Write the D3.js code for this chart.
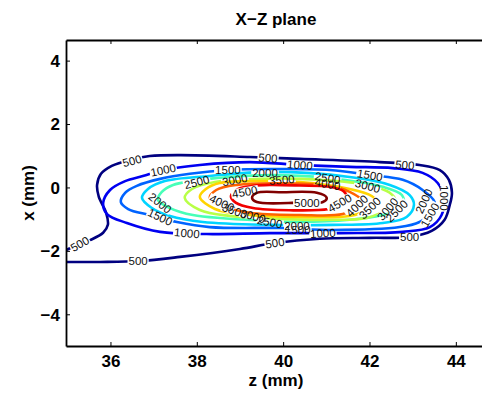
<!DOCTYPE html>
<html>
<head>
<meta charset="utf-8">
<script src="https://cdn.jsdelivr.net/npm/d3@7"></script>
<style>
  body { margin: 0; background: #fff; }
  svg { display: block; font-family: "Liberation Sans", Arial, sans-serif; }
</style>
</head>
<body>
<svg id="chart"></svg>
<script>
// contour levels and the jet colours MATLAB gave them
const levels = [500, 1000, 1500, 2000, 2500, 3000, 3500, 4000, 4500, 5000];
const levelColors = ["#000080", "#0000f1", "#0063ff", "#00d4ff", "#47ffb8",
                     "#b8ff47", "#ffd400", "#ff6300", "#f10000", "#800000"];

const zTicks = [36, 38, 40, 42, 44];
const xTicks = [-4, -2, 0, 2, 4];

// contour lines, [z (mm), x (mm)]
const line500 = [[34.85, -1.99], [34.97, -1.97], [35.18, -1.84], [35.53, -1.66], [35.83, -1.43], [35.94, -1.18],
  [35.90, -0.80], [35.73, -0.30], [35.69, 0.08], [35.78, 0.43], [36.03, 0.68], [36.45, 0.87],
  [36.91, 0.99], [37.61, 1.02], [39.23, 0.96], [40.39, 0.90], [42.24, 0.80], [43.16, 0.71],
  [43.63, 0.55], [43.84, 0.24], [43.91, -0.17], [43.86, -0.55], [43.74, -1.02], [43.44, -1.37],
  [42.93, -1.56], [42.01, -1.59], [40.85, -1.62], [39.81, -1.75], [39.00, -1.94], [37.61, -2.19],
  [36.68, -2.32], [35.76, -2.35], [34.97, -2.35], [34.85, -2.35]];
const line1000 = [[35.83, -0.49], [35.99, -0.08], [36.34, 0.20], [36.75, 0.36], [37.22, 0.55], [38.07, 0.71],
  [39.23, 0.80], [40.39, 0.71], [41.54, 0.65], [42.54, 0.61], [43.23, 0.46], [43.58, 0.14],
  [43.72, -0.33], [43.67, -0.87], [43.40, -1.25], [42.77, -1.40], [41.31, -1.44], [39.69, -1.44],
  [38.23, -1.47], [37.15, -1.40], [36.38, -1.12], [35.92, -0.84]];
const line1500 = [[36.24, -0.46], [36.34, -0.17], [36.61, 0.05], [37.15, 0.27], [37.84, 0.43], [38.77, 0.55],
  [39.69, 0.58], [41.08, 0.55], [42.01, 0.39], [42.77, 0.24], [43.23, -0.08], [43.51, -0.46],
  [43.44, -0.80], [43.16, -1.09], [42.70, -1.25], [41.15, -1.34], [39.99, -1.28], [38.30, -1.25],
  [37.54, -1.09], [36.91, -0.87], [36.41, -0.68]];
const line2000 = [[36.73, -0.33], [36.87, -0.05], [37.26, 0.20], [38.30, 0.36], [39.69, 0.49], [41.54, 0.33],
  [42.47, 0.08], [42.93, -0.24], [43.03, -0.55], [42.86, -0.93], [42.31, -1.12], [41.15, -1.18],
  [39.69, -1.18], [38.14, -1.09], [37.38, -0.90], [36.95, -0.64]];
const line2500 = [[37.10, -0.39], [37.19, -0.14], [37.45, 0.08], [38.47, 0.30], [39.69, 0.39], [41.03, 0.30],
  [42.31, 0.02], [42.75, -0.24], [42.79, -0.55], [42.63, -0.74], [42.31, -0.87], [41.54, -1.02],
  [40.39, -1.09], [39.69, -1.06], [37.91, -0.87], [37.38, -0.65]];
const line3000 = [[37.72, -0.33], [37.89, -0.05], [38.42, 0.17], [39.46, 0.27], [40.39, 0.27], [41.96, 0.08],
  [42.47, -0.17], [42.61, -0.46], [42.42, -0.68], [41.94, -0.96], [41.08, -1.02], [39.92, -0.99],
  [38.77, -0.90], [38.07, -0.71]];
const line3500 = [[38.07, -0.30], [38.21, -0.05], [38.53, 0.14], [39.46, 0.20], [40.39, 0.17], [41.54, -0.05],
  [42.05, -0.27], [42.19, -0.49], [42.01, -0.68], [41.54, -0.90], [40.39, -0.93], [39.23, -0.87],
  [38.42, -0.68]];
const line4000 = [[38.30, -0.33], [38.45, -0.08], [38.93, 0.08], [39.92, 0.13], [41.08, 0.05], [41.54, -0.14],
  [41.80, -0.39], [41.71, -0.61], [41.38, -0.84], [40.39, -0.87], [39.23, -0.80], [38.60, -0.58]];
const line4500 = [[38.79, -0.27], [38.95, -0.05], [39.30, 0.05], [39.69, 0.08], [40.39, 0.06], [41.08, 0.02],
  [41.40, -0.12], [41.47, -0.30], [41.35, -0.52], [41.05, -0.68], [40.15, -0.72], [39.30, -0.65], [38.90, -0.48]];
const line5000 = [[39.28, -0.33], [39.39, -0.17], [39.99, -0.15], [40.78, -0.17], [41.01, -0.33], [40.92, -0.46],
  [40.39, -0.48], [39.39, -0.46]];

// inline labels: [level, z, x, angle]
const contourLabels = [
  [500, 35.29, -1.78, -30], [500, 36.50, 0.84, -15], [500, 36.64, -2.32, 0], [500, 39.65, 0.93, 5],
  [500, 39.81, -1.75, -8], [500, 42.82, 0.71, 5], [500, 42.93, -1.56, 0],
  [1000, 37.22, 0.55, -12], [1000, 37.77, -1.44, 5], [1000, 40.39, 0.71, 5], [1000, 40.92, -1.44, -3],
  [1000, 43.74, -0.33, 90],
  [1500, 38.72, 0.55, 0], [1500, 37.15, -0.93, 25], [1500, 42.01, 0.39, 10], [1500, 43.40, -0.87, -60],
  [1500, 40.34, -1.34, 0],
  [2000, 39.58, 0.46, 0], [2000, 37.15, -0.49, 38], [2000, 43.26, -0.43, -65], [2000, 40.32, -1.21, 0],
  [2500, 38.00, 0.17, -15], [2500, 41.03, 0.30, 10], [2500, 42.63, -0.74, -45], [2500, 39.69, -1.09, 10],
  [3000, 38.88, 0.24, -10], [3000, 41.96, 0.05, 15], [3000, 42.42, -0.68, -50], [3000, 39.30, -0.90, 15],
  [3500, 39.97, 0.24, -5], [3500, 42.01, -0.65, -45], [3500, 38.88, -0.74, 20],
  [4000, 41.03, 0.11, 10], [4000, 41.71, -0.58, -45], [4000, 38.58, -0.49, 25],
  [4500, 39.11, -0.14, -10], [4500, 41.31, -0.49, -30],
  [5000, 40.55, -0.49, 0]
];

const contourLines = [
  {level: 500, closed: false, pts: line500},
  {level: 1000, closed: true, pts: line1000},
  {level: 1500, closed: true, pts: line1500},
  {level: 2000, closed: true, pts: line2000},
  {level: 2500, closed: true, pts: line2500},
  {level: 3000, closed: true, pts: line3000},
  {level: 3500, closed: true, pts: line3500},
  {level: 4000, closed: true, pts: line4000},
  {level: 4500, closed: true, pts: line4500},
  {level: 5000, closed: true, pts: line5000}
];

const W = 482, H = 396;
const plotLeft = 66, plotTop = 40, plotBottom = 346, plotRight = 499;

const svg = d3.select("#chart").attr("width", W).attr("height", H);

const x = d3.scaleLinear().domain([34.97, 45]).range([plotLeft, plotRight]);
const y = d3.scaleLinear().domain([-5, 4.65]).range([plotBottom, plotTop]);
const color = d3.scaleOrdinal().domain(levels).range(levelColors);

const defs = svg.append("defs");
defs.append("clipPath").attr("id", "plotClip")
  .append("rect")
    .attr("x", plotLeft).attr("y", plotTop)
    .attr("width", plotRight - plotLeft).attr("height", plotBottom - plotTop);

const labelSize = 11.5;

// one mask per level so each line breaks only under its own labels
levels.forEach((lv, i) => {
  let m = defs.append("mask").attr("id", "gap" + i)
    .attr("maskUnits", "userSpaceOnUse")
    .attr("x", 0).attr("y", 0).attr("width", W).attr("height", H);
  m.append("rect").attr("width", W).attr("height", H).attr("fill", "#fff");
  contourLabels.filter(d => d[0] === lv).forEach(d => {
    let w = String(d[0]).length * labelSize * 0.556 + 2;
    let h = labelSize * 0.78;
    m.append("rect")
      .attr("x", -w / 2).attr("y", -h / 2)
      .attr("width", w).attr("height", h)
      .attr("fill", "#000")
      .attr("transform", "translate(" + x(d[1]) + "," + y(d[2]) + ") rotate(" + d[3] + ")");
  });
});

const g = svg.append("g").attr("clip-path", "url(#plotClip)");

const closedLine = d3.line()
  .curve(d3.curveCatmullRomClosed.alpha(0.5))
  .x(d => x(d[0])).y(d => y(d[1]));
const openLine = d3.line()
  .curve(d3.curveCatmullRom.alpha(0.5))
  .x(d => x(d[0])).y(d => y(d[1]));

for (let c of contourLines) {
  g.append("path")
    .datum(c.pts)
    .attr("fill", "none")
    .attr("stroke", color(c.level))
    .attr("stroke-width", 2.6)
    .attr("stroke-linejoin", "round")
    .attr("mask", "url(#gap" + levels.indexOf(c.level) + ")")
    .attr("d", c.closed ? closedLine : openLine);
}

g.selectAll("text.clabel")
  .data(contourLabels)
  .enter()
  .append("text")
    .attr("class", "clabel")
    .attr("transform", d => "translate(" + x(d[1]) + "," + y(d[2]) + ") rotate(" + d[3] + ")")
    .attr("text-anchor", "middle")
    .attr("dy", "0.36em")
    .attr("font-size", labelSize)
    .attr("fill", "#111")
    .text(d => d[0]);

// axes (MATLAB style, ticks inside)
const fs = 17;
const xAxis = svg.append("g")
  .attr("transform", "translate(0," + plotBottom + ")")
  .call(d3.axisBottom(x).tickValues(zTicks).tickSize(-4).tickSizeOuter(0).tickPadding(9));
const xAxisTop = svg.append("g")
  .attr("transform", "translate(0," + plotTop + ")")
  .call(d3.axisTop(x).tickValues(zTicks).tickSize(-4).tickSizeOuter(0).tickFormat(""));
const yAxis = svg.append("g")
  .attr("transform", "translate(" + plotLeft + ",0)")
  .call(d3.axisLeft(y).tickValues(xTicks).tickSize(-4).tickSizeOuter(0).tickPadding(6));

for (let a of [xAxis, xAxisTop, yAxis]) {
  a.select(".domain").attr("stroke", "#000").attr("stroke-width", 1.8);
  a.selectAll(".tick line").attr("stroke", "#000").attr("stroke-width", 1);
  a.selectAll("text")
    .attr("font-size", fs)
    .attr("font-weight", "bold")
    .attr("font-family", "'Liberation Sans', Arial, sans-serif")
    .attr("fill", "#000");
}
xAxis.selectAll(".tick text").attr("dy", "0.72em");
yAxis.selectAll(".tick text").attr("dy", "0.34em");

svg.append("text")
  .attr("x", 276).attr("y", 25)
  .attr("text-anchor", "middle")
  .attr("font-size", fs).attr("font-weight", "bold")
  .text("X\u2212Z plane");

svg.append("text")
  .attr("x", 276).attr("y", 386)
  .attr("text-anchor", "middle")
  .attr("font-size", fs).attr("font-weight", "bold")
  .text("z (mm)");

svg.append("text")
  .attr("transform", "translate(34,193) rotate(-90)")
  .attr("text-anchor", "middle")
  .attr("font-size", fs).attr("font-weight", "bold")
  .text("x (mm)");
</script>
</body>
</html>
